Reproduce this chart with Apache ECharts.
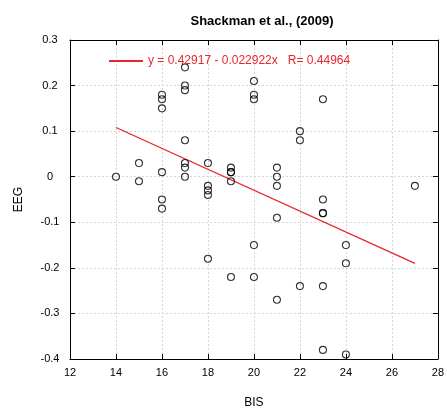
<!DOCTYPE html>
<html>
<head>
<meta charset="utf-8">
<script src="https://cdn.jsdelivr.net/npm/echarts@6/dist/echarts.min.js"></script>
<style>
  html, body { margin: 0; padding: 0; background: #fff; }
  #chart { width: 447px; height: 414px; }
</style>
</head>
<body>
<div id="chart"></div>
<script>
// scatter points (BIS vs EEG)
var bisValues = [14, 15, 15,
  16, 16, 16, 16, 16, 16,
  17, 17, 17, 17, 17, 17, 17,
  18, 18, 18, 18, 18,
  19, 19, 19, 19, 19,
  20, 20, 20, 20, 20,
  21, 21, 21, 21, 21,
  22, 22, 22,
  23, 23, 23, 23, 23, 23,
  24, 24, 24,
  27];
var eegValues = [0, 0.03, -0.01,
  0.18, 0.17, 0.15, 0.01, -0.05, -0.07,
  0.24, 0.20, 0.19, 0.08, 0.03, 0.02, 0,
  0.03, -0.02, -0.03, -0.04, -0.18,
  0.02, 0.01, 0.01, -0.01, -0.22,
  0.21, 0.18, 0.17, -0.15, -0.22,
  0.02, 0, -0.02, -0.09, -0.27,
  0.10, 0.08, -0.24,
  0.17, -0.05, -0.08, -0.08, -0.24, -0.38,
  -0.15, -0.19, -0.39,
  -0.02];

// regression line end points
var fitX = [14, 27];
var fitY = [0.108, -0.19];
var fitLabel = 'y = 0.42917 - 0.022922x   R= 0.44964';

var xTicks = { min: 12, max: 28, interval: 2 };
var yTicks = { min: -0.4, max: 0.3, interval: 0.1 };

var font = 'Liberation Sans, Arial, Helvetica, sans-serif';

var chart = echarts.init(document.getElementById('chart'));

var points = bisValues.map(function (x, i) { return [x, eegValues[i]]; });
var fitPoints = fitX.map(function (x, i) { return [x, fitY[i]]; });

var gridLine = { show: true, lineStyle: { color: '#d6d6d6', type: [2, 2], width: 1 } };
var frameLine = { show: true, onZero: false, lineStyle: { color: '#000', width: 1 } };
var tickIn = { show: true, inside: true, length: 5, lineStyle: { color: '#000' } };

chart.setOption({
  animation: false,
  textStyle: { fontFamily: font },
  title: {
    text: 'Shackman et al., (2009)',
    left: 257,
    textAlign: 'center',
    top: 10,
    textStyle: { fontSize: 13, fontWeight: 'bold', color: '#000', fontFamily: font }
  },
  legend: {
    left: 104,
    top: 50,
    itemWidth: 34,
    itemHeight: 2,
    data: [{ name: fitLabel, icon: 'rect' }],
    textStyle: { color: '#e8262b', fontSize: 12, fontFamily: font }
  },
  grid: { left: 70, right: 7, top: 40, bottom: 54 },
  xAxis: [{
    type: 'value',
    min: xTicks.min, max: xTicks.max, interval: xTicks.interval,
    name: 'BIS', nameLocation: 'middle', nameGap: 38,
    nameTextStyle: { fontSize: 12, color: '#000', fontFamily: font },
    axisLine: frameLine, axisTick: tickIn, splitLine: gridLine,
    axisLabel: { color: '#000', fontSize: 11, margin: 8, fontFamily: font }
  }, {
    type: 'value', position: 'top',
    min: xTicks.min, max: xTicks.max, interval: xTicks.interval,
    axisLine: frameLine, axisTick: tickIn, splitLine: { show: false },
    axisLabel: { show: false }
  }],
  yAxis: [{
    type: 'value',
    min: yTicks.min, max: yTicks.max, interval: yTicks.interval,
    name: 'EEG', nameLocation: 'middle', nameGap: 45, nameRotate: 90,
    nameTextStyle: { fontSize: 12, color: '#000', fontFamily: font },
    axisLine: frameLine, axisTick: tickIn, splitLine: gridLine,
    axisLabel: {
      color: '#000', fontSize: 11, margin: 20, align: 'center', fontFamily: font,
      formatter: function (v) { return String(+v.toFixed(1)); }
    }
  }, {
    type: 'value', position: 'right',
    min: yTicks.min, max: yTicks.max, interval: yTicks.interval,
    axisLine: frameLine, axisTick: tickIn, splitLine: { show: false },
    axisLabel: { show: false }
  }],
  series: [{
    name: 'data',
    type: 'scatter',
    data: points,
    symbol: 'circle',
    symbolSize: 7,
    itemStyle: { color: 'rgba(255,255,255,0)', borderColor: '#000', borderWidth: 1.1 },
    z: 3
  }, {
    name: fitLabel,
    type: 'line',
    data: fitPoints,
    symbol: 'none',
    lineStyle: { color: '#e8262b', width: 1.3 },
    itemStyle: { color: '#e8262b' },
    z: 2
  }]
});
</script>
</body>
</html>
